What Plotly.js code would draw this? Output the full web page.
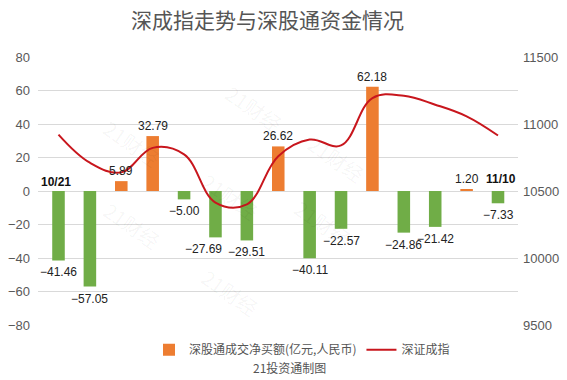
<!DOCTYPE html>
<html><head><meta charset="utf-8">
<script src="https://cdn.plot.ly/plotly-3.0.1.min.js"></script>
<style>html,body{margin:0;padding:0;background:#fff}#c{width:567px;height:380px}</style>
</head><body><div id="c"></div>
<script>
const dates = ["10/21","10/24","10/25","10/26","10/27","10/28","10/31","11/01","11/02","11/03","11/04","11/07","11/08","11/09","11/10"];
const netBuy = [-41.46,-57.05,5.89,32.79,-5.00,-27.69,-29.51,26.62,-40.11,-22.57,62.18,-24.86,-21.42,1.20,-7.33];
const szIndex = [10921,10711,10639,10822,10773,10414,10401,10760,10884,10840,11193,11210,11144,11057,10914];

const fmt = v => v.toFixed(2).replace('-', '\u2212');
const posY = netBuy.map(v => v >= 0 ? v : null);
const negY = netBuy.map(v => v < 0 ? v : null);
const labelFont = {family:'Liberation Sans, Arial, sans-serif', size:12, color:'#222'};

const traces = [
  {type:'bar', x:dates, y:posY, name:'深股通成交净买额(亿元,人民币)',
   marker:{color:'#ED7D31'}, hoverinfo:'skip'},
  {type:'bar', x:dates, y:negY, name:'neg', showlegend:false,
   marker:{color:'#70AD47'}, hoverinfo:'skip'},
  {type:'scatter', mode:'lines', x:dates, y:szIndex, yaxis:'y2', name:'深证成指',
   line:{color:'#C8161D', width:2, shape:'spline', smoothing:1.1}, hoverinfo:'skip'}
];

// data labels; a label nudges left when the next one sits at nearly the same height
const labels = netBuy.map((v, i) => {
  const nxt = netBuy[i + 1];
  const crowd = nxt !== undefined && v < 0 && nxt < 0 && Math.abs(v - nxt) < 2.5;
  return {x:dates[i], y:v, xref:'x', yref:'y', text:fmt(v), showarrow:false,
    yanchor: v >= 0 ? 'bottom' : 'top', yshift: v >= 0 ? 1 : -3, xshift: crowd ? -12 : 0,
    font:labelFont};
});

const wm = (x, y) => ({x:x, y:y, xref:'paper', yref:'paper', text:'21财经', showarrow:false, textangle:35,
  font:{family:'Noto Sans CJK SC, sans-serif', size:20, color:'rgba(0,0,0,0.045)'}});

const layout = {
  width:567, height:380,
  margin:{l:38, r:49, t:57, b:55},
  paper_bgcolor:'#fff', plot_bgcolor:'#fff',
  title:{text:'深成指走势与深股通资金情况', x:0.472, xanchor:'center', y:0.945, yanchor:'middle',
    font:{family:'Noto Sans CJK SC, sans-serif', size:21, color:'#555'}},
  barmode:'overlay',
  bargap:0.6,
  showlegend:true,
  legend:{orientation:'h', x:0.55, xanchor:'center', y:-0.092, yanchor:'middle',
    font:{family:'Noto Sans CJK SC, sans-serif', size:12, color:'#555'}},
  xaxis:{type:'category', showticklabels:false, showgrid:false, zeroline:false, showline:false, ticks:''},
  yaxis:{range:[-80,80], tickvals:[-80,-60,-40,-20,0,20,40,60,80],
    ticktext:['\u221280','\u221260','\u221240','\u221220','0','20','40','60','80'],
    gridcolor:'#D9D9D9', zeroline:false, showline:false, ticks:'', ticklabelstandoff:7,
    tickfont:{family:'Liberation Sans, Arial, sans-serif', size:13, color:'#595959'}},
  yaxis2:{overlaying:'y', side:'right', range:[9500,11500], tickvals:[9500,10000,10500,11000,11500],
    ticktext:['9500','10000','10500','11000','11500'], showgrid:false, zeroline:false,
    showline:false, ticks:'', ticklabelstandoff:4,
    tickfont:{family:'Liberation Sans, Arial, sans-serif', size:13, color:'#595959'}},
  annotations:[
    {x:dates[0], y:0, xref:'x', yref:'y', text:'<b>10/21</b>', showarrow:false, yanchor:'bottom', yshift:0, xshift:-3,
     font:{family:'Liberation Sans, Arial, sans-serif', size:12, color:'#111'}},
    {x:dates[14], y:0, xref:'x', yref:'y', text:'<b>11/10</b>', showarrow:false, yanchor:'bottom', yshift:3, xshift:3,
     font:{family:'Liberation Sans, Arial, sans-serif', size:12, color:'#111'}},
    {x:0.523, y:-0.157, xref:'paper', yref:'paper', text:'21投资通制图', showarrow:false, yanchor:'middle',
     font:{family:'Noto Sans CJK SC, sans-serif', size:12, color:'#555'}},
    wm(0.12,0.8), wm(0.45,0.93), wm(0.62,0.62), wm(0.4,0.48), wm(0.12,0.25), wm(0.4,0.0), wm(0.67,0.38)
  ].concat(labels)
};
Plotly.newPlot('c', traces, layout, {staticPlot:true, displayModeBar:false});
</script></body></html>
